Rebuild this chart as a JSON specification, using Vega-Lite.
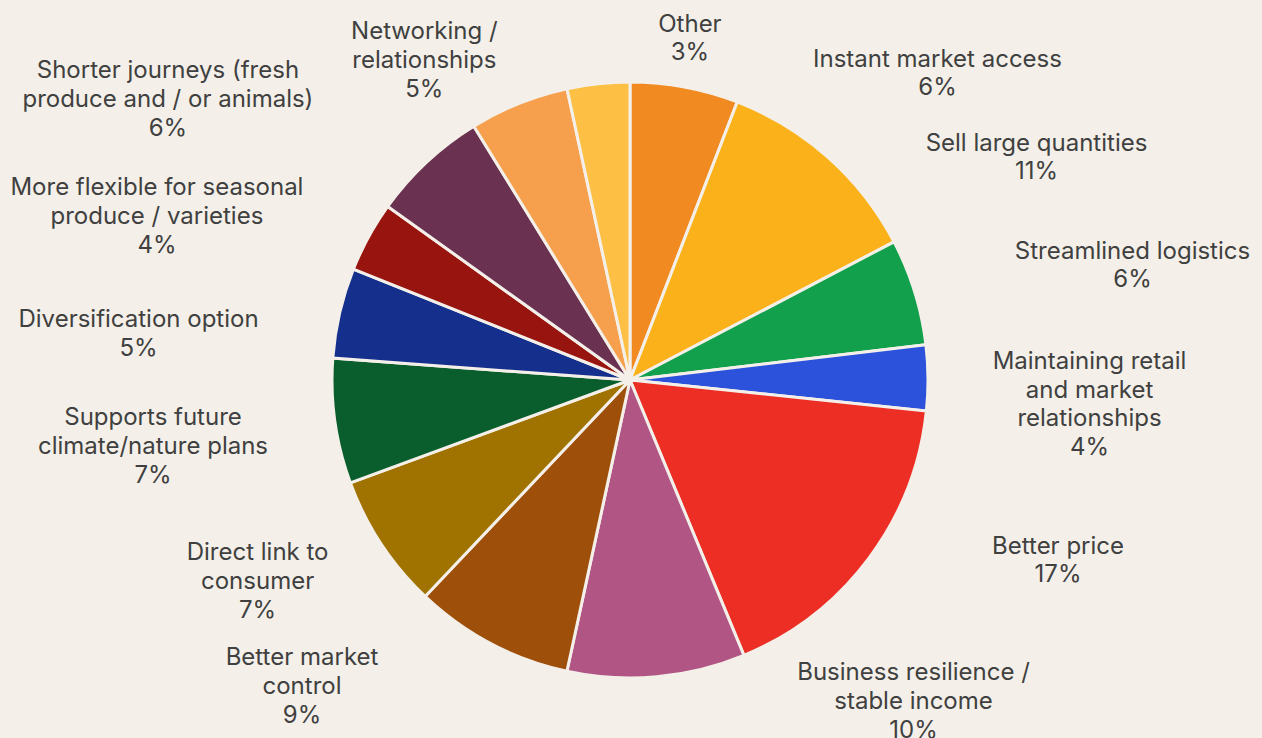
{
  "$schema": "https://vega.github.io/schema/vega-lite/v6.json",
  "width": 1260,
  "height": 716,
  "autosize": {"type": "none"},
  "padding": {"left": 0, "top": 22, "right": 2, "bottom": 0},
  "background": "#F4F0E9",
  "config": {
    "view": {"stroke": null},
    "text": {"font": "Inter", "fontSize": 24, "lineHeight": 28.8, "align": "center", "baseline": "middle", "fill": "#404040"}
  },
  "data": {
    "values": [
      {"id": 1, "category": "Instant market access", "value": 5.86, "label": ["Instant market access", "6%"]},
      {"id": 2, "category": "Sell large quantities", "value": 11.47, "label": ["Sell large quantities", "11%"]},
      {"id": 3, "category": "Streamlined logistics", "value": 5.78, "label": ["Streamlined logistics", "6%"]},
      {"id": 4, "category": "Maintaining retail and market relationships", "value": 3.55, "label": ["Maintaining retail", "and market", "relationships", "4%"]},
      {"id": 5, "category": "Better price", "value": 17.1, "label": ["Better price", "17%"]},
      {"id": 6, "category": "Business resilience / stable income", "value": 9.64, "label": ["Business resilience /", "stable income", "10%"]},
      {"id": 7, "category": "Better market control", "value": 8.67, "label": ["Better market", "control", "9%"]},
      {"id": 8, "category": "Direct link to consumer", "value": 7.33, "label": ["Direct link to", "consumer", "7%"]},
      {"id": 9, "category": "Supports future climate/nature plans", "value": 6.78, "label": ["Supports future", "climate/nature plans", "7%"]},
      {"id": 10, "category": "Diversification option", "value": 4.89, "label": ["Diversification option", "5%"]},
      {"id": 11, "category": "More flexible for seasonal produce / varieties", "value": 3.83, "label": ["More flexible for seasonal", "produce / varieties", "4%"]},
      {"id": 12, "category": "Shorter journeys (fresh produce and / or animals)", "value": 6.33, "label": ["Shorter journeys (fresh", "produce and / or animals)", "6%"]},
      {"id": 13, "category": "Networking / relationships", "value": 5.39, "label": ["Networking /", "relationships", "5%"]},
      {"id": 14, "category": "Other", "value": 3.39, "label": ["Other", "3%"]}
    ]
  },
  "encoding": {
    "theta": {"field": "value", "type": "quantitative", "stack": true},
    "order": {"field": "id", "type": "quantitative"},
    "detail": {"field": "category", "type": "nominal"}
  },
  "layer": [
    {
      "mark": {"type": "arc", "outerRadius": 298, "stroke": "#F4F0E9", "strokeWidth": 3},
      "encoding": {
        "color": {
          "field": "category",
          "type": "nominal",
          "legend": null,
          "scale": {
            "domain": ["Instant market access", "Sell large quantities", "Streamlined logistics", "Maintaining retail and market relationships", "Better price", "Business resilience / stable income", "Better market control", "Direct link to consumer", "Supports future climate/nature plans", "Diversification option", "More flexible for seasonal produce / varieties", "Shorter journeys (fresh produce and / or animals)", "Networking / relationships", "Other"],
            "range": ["#F28A22", "#FBB21A", "#13A04D", "#2C52DB", "#EC2E25", "#B05584", "#9E4F0A", "#A07300", "#0A5E2D", "#15308C", "#98140F", "#6B3150", "#F6A04E", "#FDBF44"]
          }
        }
      }
    },
    {"mark": {"type": "text", "radius": 433.8, "thetaOffset": 0.6037, "dy": -14.4}, "encoding": {"text": {"condition": {"test": "datum.id === 1", "field": "label"}, "value": ""}}},
    {"mark": {"type": "text", "radius": 463.2, "thetaOffset": 0.3424, "dy": -14.4}, "encoding": {"text": {"condition": {"test": "datum.id === 2", "field": "label"}, "value": ""}}},
    {"mark": {"type": "text", "radius": 515.3, "thetaOffset": 0.0773, "dy": -14.4}, "encoding": {"text": {"condition": {"test": "datum.id === 3", "field": "label"}, "value": ""}}},
    {"mark": {"type": "text", "radius": 460.2, "thetaOffset": 0.0616, "dy": -43.2}, "encoding": {"text": {"condition": {"test": "datum.id === 4", "field": "label"}, "value": ""}}},
    {"mark": {"type": "text", "radius": 464.7, "thetaOffset": -0.2414, "dy": -14.4}, "encoding": {"text": {"condition": {"test": "datum.id === 5", "field": "label"}, "value": ""}}},
    {"mark": {"type": "text", "radius": 429.0, "thetaOffset": -0.6325, "dy": -28.8}, "encoding": {"text": {"condition": {"test": "datum.id === 6", "field": "label"}, "value": ""}}},
    {"mark": {"type": "text", "radius": 449.3, "thetaOffset": 0.3327, "dy": -28.8}, "encoding": {"text": {"condition": {"test": "datum.id === 7", "field": "label"}, "value": ""}}},
    {"mark": {"type": "text", "radius": 423.7, "thetaOffset": 0.0853, "dy": -28.8}, "encoding": {"text": {"condition": {"test": "datum.id === 8", "field": "label"}, "value": ""}}},
    {"mark": {"type": "text", "radius": 481.7, "thetaOffset": -0.0007, "dy": -28.8}, "encoding": {"text": {"condition": {"test": "datum.id === 9", "field": "label"}, "value": ""}}},
    {"mark": {"type": "text", "radius": 493.6, "thetaOffset": -0.1342, "dy": -14.4}, "encoding": {"text": {"condition": {"test": "datum.id === 10", "field": "label"}, "value": ""}}},
    {"mark": {"type": "text", "radius": 500.3, "thetaOffset": -0.1698, "dy": -28.8}, "encoding": {"text": {"condition": {"test": "datum.id === 11", "field": "label"}, "value": ""}}},
    {"mark": {"type": "text", "radius": 540.2, "thetaOffset": -0.2759, "dy": -28.8}, "encoding": {"text": {"condition": {"test": "datum.id === 12", "field": "label"}, "value": ""}}},
    {"mark": {"type": "text", "radius": 379.5, "thetaOffset": -0.1904, "dy": -28.8}, "encoding": {"text": {"condition": {"test": "datum.id === 13", "field": "label"}, "value": ""}}},
    {"mark": {"type": "text", "radius": 346.2, "thetaOffset": 0.2805, "dy": -14.4}, "encoding": {"text": {"condition": {"test": "datum.id === 14", "field": "label"}, "value": ""}}}
  ]
}
